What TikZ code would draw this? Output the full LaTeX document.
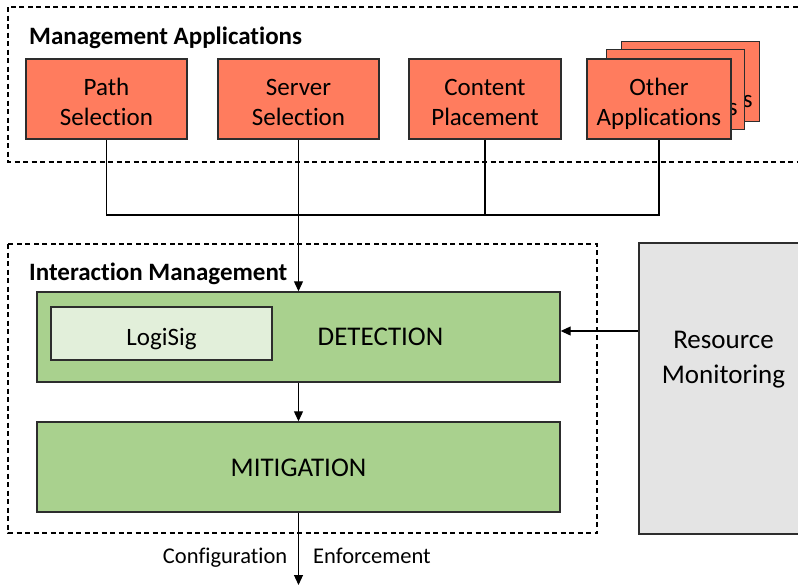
\documentclass[tikz,border=0pt]{standalone}
\usepackage{fontspec}
\setmainfont{Carlito}[Ligatures={NoCommon}]
\usetikzlibrary{arrows.meta}
\definecolor{salmon}{RGB}{255,124,94}
\definecolor{grn}{RGB}{169,209,142}
\definecolor{lgrn}{RGB}{226,239,218}
\definecolor{gry}{RGB}{228,228,228}
\definecolor{edge}{RGB}{45,45,45}
\newcommand\twoln[2]{\rule{0pt}{31pt}#1\\#2\strut}
\begin{document}
\begin{tikzpicture}[x=1pt,y=-1pt,
  box/.style={draw=edge,line width=1.4pt,rectangle,inner sep=0pt,align=center,font=\fontsize{25}{30}\selectfont},
  app/.style={box,fill=salmon,minimum height=80pt},
  grp/.style={draw=black,dash pattern=on 5pt off 3.5pt,line width=1.1pt},
  conn/.style={draw=black,line width=1.1pt},
  arr/.style={conn,-{Triangle[length=10pt,width=9pt]}},
  hdr/.style={font=\bfseries\fontsize{25}{30}\selectfont,anchor=base west,inner sep=0pt},
  lbl/.style={inner sep=0pt,font=\fontsize{22.5}{27}\selectfont},
]
\useasboundingbox (0,0) rectangle (798,587);
\clip (0,0) rectangle (798,587);
% Management applications group
\draw[grp] (8,7) rectangle (830,162);
\node[hdr] (mahdr) at (29,44) {Management Applications};
\node[app,minimum width=161pt] (path) at (106.5,99) {\twoln{Path}{Selection}};
\node[app,minimum width=161pt] (server) at (298.5,99) {\twoln{Server}{Selection}};
\node[app,minimum width=152pt] (content) at (485,99) {\twoln{Content}{Placement}};
\node[app,minimum width=138pt] (otherc) at (690.5,81.5) {\twoln{Other}{Applications}};
\node[app,minimum width=138pt] (otherb) at (675.5,89.5) {\twoln{Other}{Applications}};
\node[app,minimum width=144pt] (other) at (659,99) {\twoln{Other}{Applications}};
% Interaction management group
\draw[grp] (8,244) rectangle (597,533);
\node[hdr] (imhdr) at (29,280.5) {Interaction Management};
\node[box,fill=grn,minimum width=523pt,minimum height=90pt] (det) at (298.5,337) {};
\node[box,fill=lgrn,line width=1.2pt,minimum width=221pt,minimum height=53pt,text height=23pt,text depth=0pt] (logi) at (161.5,333.5) {LogiSig};
\node[lbl,anchor=base,font=\fontsize{27}{32}\selectfont] (dettxt) at (380.5,345.7) {DETECTION};
\node[box,fill=grn,minimum width=523pt,minimum height=90pt,text height=18pt,text depth=0pt,font=\fontsize{27}{32}\selectfont] (mit) at (298.5,467) {MITIGATION};
% Resource monitoring
\node[box,fill=gry,minimum width=200pt,minimum height=291pt] (rm) at (739,388.5) {};
\node[lbl,align=center,font=\fontsize{27}{35}\selectfont] (rmtxt) at (723.5,358.5) {\strut Resource\\Monitoring\strut};
% connectors
\coordinate (bus) at (0,215);
\draw[conn] (path.south) |- (bus -| other.south) -- (other.south);
\draw[conn] (content.south) -- (content.south |- bus);
\draw[arr] (server.south) -- (det.north);
\draw[arr] (det.south) -- (mit.north);
\coordinate (rmy) at (0,331);
\draw[arr] (rm.west |- rmy) -- (det.east |- rmy);
\coordinate (out) at (298.5,585);
\draw[arr] (mit.south) -- (out);
\node[lbl,anchor=base east] (cfg) at (287.5,563) {Configuration};
\node[lbl,anchor=base west] (enf) at (313,563) {Enforcement};
\end{tikzpicture}
\end{document}
